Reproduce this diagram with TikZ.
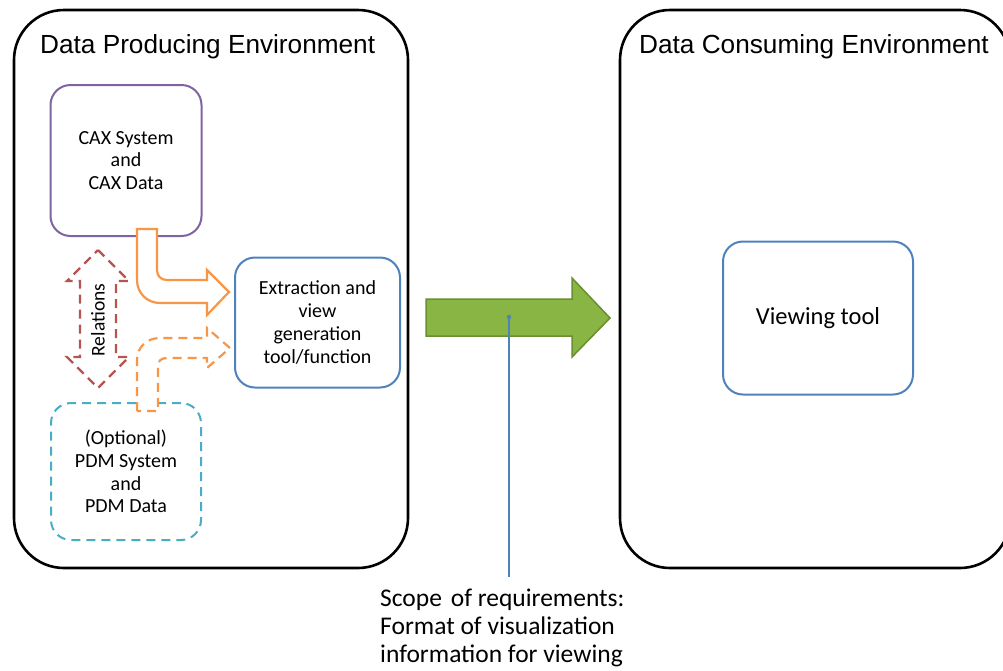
\documentclass[tikz,border=0pt]{standalone}
\usepackage{fontspec}
\setmainfont{Carlito}
\newfontfamily\arialf{Liberation Sans}
\definecolor{caxpurple}{HTML}{8064A2}
\definecolor{boxblue}{HTML}{4F81BD}
\definecolor{pdmcyan}{HTML}{4BACC6}
\definecolor{arrorange}{HTML}{F79646}
\definecolor{relred}{HTML}{B85450}
\definecolor{greenfill}{HTML}{88B544}
\definecolor{greenline}{HTML}{6A8E30}
\begin{document}
\begin{tikzpicture}[x=1pt,y=-1pt,
  env/.style={draw=black, line width=2.6pt, rounded corners=50pt, inner sep=0},
  envtitle/.style={anchor=base west, inner sep=0, font=\arialf\fontsize{26.2}{30}\selectfont},
  inbox/.style={draw, line width=2pt, rounded corners=20pt, align=center, inner sep=0, font=\fontsize{20}{22.8}\selectfont},
  dashpat/.style={dash pattern=on 9pt off 6pt},
  blockarrow/.style={line width=2.2pt, line join=miter, fill=white},
]
\clip (0,0) rectangle (1003,670);
% environments
\node[env, minimum width=394pt, minimum height=558pt] (prod) at (211,289) {};
\node[env, minimum width=390pt, minimum height=558pt] (cons) at (815,289) {};
\node[envtitle] (prodtitle) at (40,53) {Data Producing Environment};
\node[envtitle] (constitle) at (639,53) {Data Consuming Environment};
% inner boxes
\node[inbox, draw=caxpurple, minimum width=151pt, minimum height=151pt] (cax) at (126,160.5) {CAX System\\and\\CAX Data};
\node[inbox, draw=boxblue, minimum width=165pt, minimum height=130pt] (ext) at (317.5,322.5) {Extraction and\\view\\generation\\tool/function};
\node[inbox, draw=pdmcyan, dashpat, minimum width=150pt, minimum height=137pt] (pdm) at (126,471.5) {(Optional)\\PDM System\\and\\PDM Data};
\node[inbox, draw=boxblue, minimum width=190pt, minimum height=153pt, font=\fontsize{24.5}{28}\selectfont] (view) at (818,318) {Viewing tool};
% solid orange bent arrow CAX -> extraction
\draw[blockarrow, draw=arrorange]
  (137,229) -- (137,280) .. controls (137,293) and (147,303) .. (160,303)
  -- (207,303) -- (207,315) -- (229,292) -- (207,270) -- (207,280)
  -- (167,280) .. controls (161,280) and (157,276) .. (157,270) -- (157,229) -- cycle;
% dashed orange bent arrow PDM -> extraction
\draw[blockarrow, draw=arrorange, dashpat]
  (137,411) -- (137,360) .. controls (137,347) and (147,338) .. (160,338)
  -- (207,338) -- (207,328) -- (230,348) -- (207,368) -- (207,358)
  -- (167,358) .. controls (161,358) and (158,361) .. (158,366) -- (158,411) -- cycle;
% relations double arrow
\draw[blockarrow, draw=relred, dashpat]
  (98,250) -- (129,281) -- (116,281) -- (116,357) -- (129,357) -- (98,388)
  -- (67,357) -- (80,357) -- (80,281) -- (67,281) -- cycle;
\node[rotate=90, inner sep=0, font=\fontsize{19.5}{24}\selectfont] (rel) at (98,320) {Relations};
% green arrow
\draw[fill=greenfill, draw=greenline, line width=1.5pt, line join=miter]
  (426,299) -- (572,299) -- (572,278) -- (610,318) -- (572,357) -- (572,336) -- (426,336) -- cycle;
\coordinate (dot) at (509,317);
\fill[boxblue] (dot) circle (2.2pt);
\node[anchor=west, inner sep=0, align=left, font=\fontsize{25.5}{28.2}\selectfont] (scope) at (380,628)
  {Scope\hspace{0.12em} of requirements:\\Format of visualization\\information for viewing};
\draw[boxblue, line width=1.3pt, shorten >=12pt] (dot) -- (dot |- scope.north);
\end{tikzpicture}
\end{document}
